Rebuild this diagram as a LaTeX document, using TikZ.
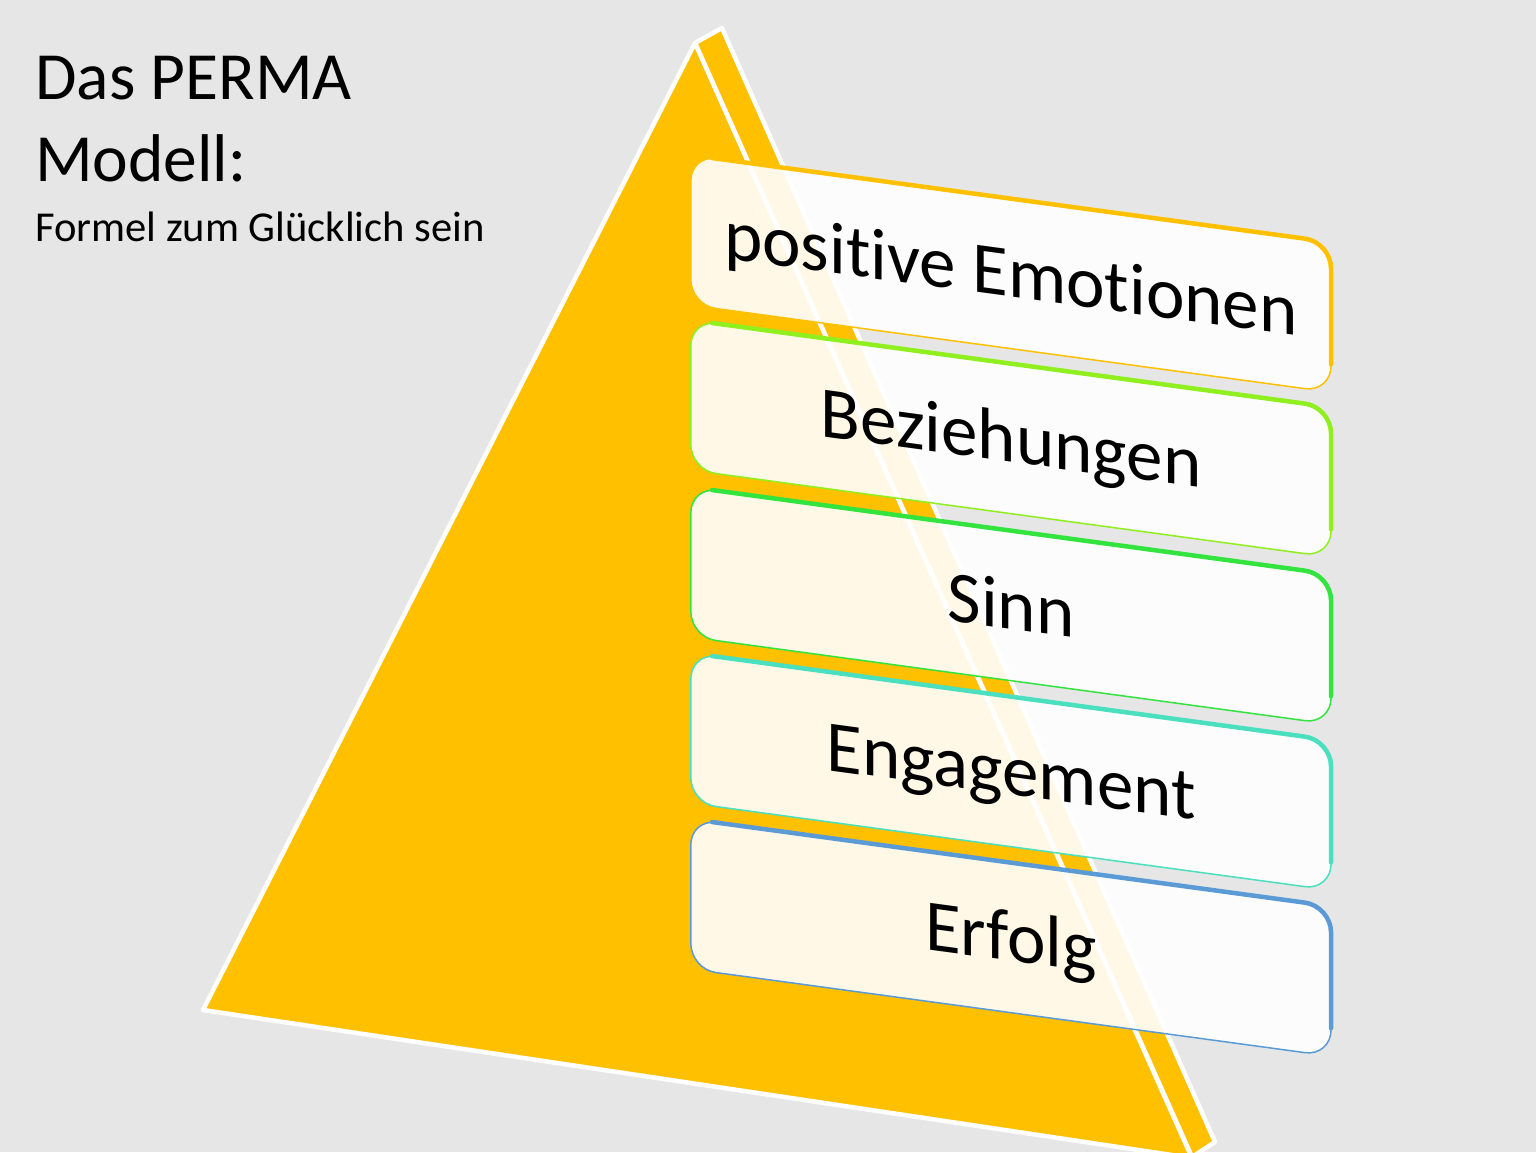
\documentclass[tikz,border=0pt]{standalone}
\usepackage{fontspec}
\setmainfont{Carlito}[Ligatures={NoCommon,NoRequired,NoContextual},RawFeature={-liga;-dlig;-clig}]
\definecolor{bggray}{HTML}{E6E6E6}
\definecolor{pyrorange}{HTML}{FFC000}
\definecolor{bxorange}{HTML}{FFC000}
\definecolor{bxlgreen}{HTML}{8FEF1F}
\definecolor{bxgreen}{HTML}{33E43E}
\definecolor{bxturq}{HTML}{4ADFBE}
\definecolor{bxblue}{HTML}{5B9BD5}
\tikzset{
  face/.style={fill=pyrorange, draw=white, line width=4.5, line join=round},
  boxbody/.style={fill=white, fill opacity=0.9, line width=1.5},
  boxrim/.style={line width=4.5, line cap=round},
  boxtext/.style={anchor=base, inner sep=0, transform shape, text=black, font=\fontsize{73}{80}\selectfont},
  titletext/.style={anchor=base west, inner sep=0, text=black}
}
% box geometry in local (sheared) coordinates
\def\bw{641}\def\bh{150}\def\br{26}\def\bk{11.64}
\begin{document}
\begin{tikzpicture}[x=1pt,y=-1pt]
\useasboundingbox (0,0) rectangle (1536,1152);
\fill[bggray] (0,0) rectangle (1536,1152);
\begin{scope}
  \clip (0,0) rectangle (1536,1152);
  \draw[face] (695,43) -- (722,28) -- (1215,1142) -- (1192,1157) -- cycle;
  \draw[face] (695,43) -- (203,1010) -- (1192,1158) -- cycle;
\end{scope}
\node[titletext, font=\fontsize{67.5}{80}\selectfont] (title1) at (35,99.5) {Das PERMA};
\node[titletext, font=\fontsize{67.5}{80}\selectfont] (title2) at (35,181.7) {Modell:};
\node[titletext, font=\fontsize{42.6}{50}\selectfont] (subtitle) at (35,241) {Formel zum Glücklich sein};
\foreach \i/\t/\c/\txt in {1/155/bxorange/positive Emotionen, 2/320/bxlgreen/Beziehungen, 3/487/bxgreen/Sinn, 4/653/bxturq/Engagement, 5/819/bxblue/Erfolg}{
  \begin{scope}[shift={(690,\t)}, yslant=-0.136]
    \path[boxbody, draw=\c]
      (0.75,\br) -- (0.75,\bh-\br)
      .. controls (0.75,\bh-\bk) and (\bk,\bh) .. (\br,\bh)
      -- (\bw-\br,\bh)
      .. controls (\bw-\bk,\bh) and (\bw,\bh-\bk) .. (\bw,\bh-\br)
      -- (\bw,\br)
      .. controls (\bw,\bk) and (\bw-\bk,0) .. (\bw-\br,0)
      -- (\br,0)
      .. controls (\bk,0) and (0.75,\bk) .. (0.75,\br) -- cycle;
    \draw[boxrim, draw=\c]
      (\br-4,0) -- (\bw-\br,0)
      .. controls (\bw-\bk,0) and (\bw,\bk) .. (\bw,\br)
      -- (\bw,\bh-\br-2);
    \node[boxtext] (label\i) at (321,98.5) {\txt};
  \end{scope}
}
\end{tikzpicture}
\end{document}
